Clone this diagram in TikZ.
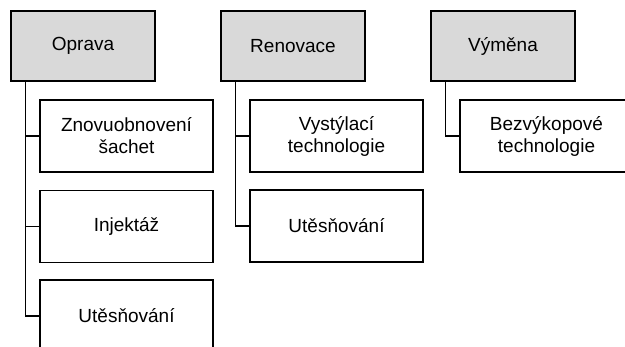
\documentclass[tikz,border=0pt]{standalone}
\usepackage{fontspec}
\setmainfont{Liberation Sans}
\definecolor{boxgray}{RGB}{217,217,217}
\begin{document}
\begin{tikzpicture}[x=1pt,y=-1pt,
        font=\fontsize{19}{22}\selectfont,
        group/.style={draw=black, line width=1.3pt, fill=boxgray, minimum width=144pt, minimum height=70pt, inner sep=0pt},
        method/.style={draw=black, line width=1.3pt, fill=white, minimum width=173pt, minimum height=72pt, align=center, inner sep=0pt},
        link/.style={draw=black, line width=1.3pt}]
        \useasboundingbox (0,0) rectangle (625,347);
        \clip (0,0) rectangle (625,347);

        % top row
        \node[group] (oprava) at (83,46) {Oprava};
        \node[group] (renovace) at (293,46) {Renovace};
        \node[group] (vymena) at (503,46) {Výměna};

        % oprava
        \node[method] (sachty) at (126.5,136) {Znovuobnovení\\šachet};
        \node[method] (injektaz) at (126.5,226.5) {Injektáž};
        \node[method] (utesnovaniA) at (126.5,316) {Utěsňování};

        % renovace
        \node[method] (vystylaci) at (336.5,136) {Vystýlací\\technologie};
        \node[method] (utesnovaniB) at (336.5,226) {Utěsňování};

        % vymena
        \node[method] (bezvykop) at (546.5,136) {Bezvýkopové\\technologie};

        \foreach \c in {sachty,injektaz,utesnovaniA} {
            \draw[link] ([xshift=15pt]oprava.south west) |- (\c.west);
        }
        \foreach \c in {vystylaci,utesnovaniB} {
            \draw[link] ([xshift=15pt]renovace.south west) |- (\c.west);
        }
        \draw[link] ([xshift=15pt]vymena.south west) |- (bezvykop.west);

\end{tikzpicture}
\end{document}
